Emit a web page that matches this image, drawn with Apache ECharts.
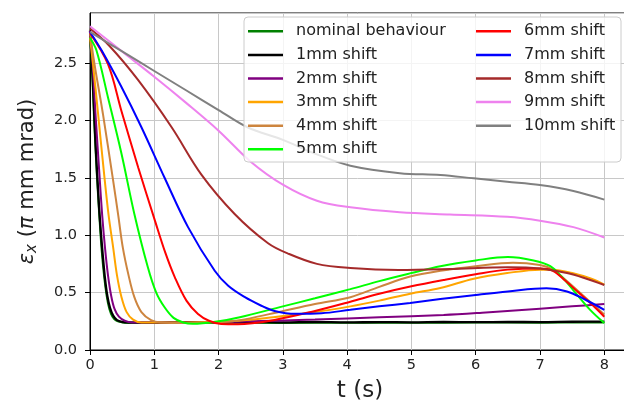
<!DOCTYPE html>
<html><head><meta charset="utf-8">
<script src="https://cdn.jsdelivr.net/npm/echarts@6/dist/echarts.min.js"></script>
<style>html,body{margin:0;padding:0;background:#fff}#c{width:624px;height:405px}</style>
</head><body><div id="c"></div>
<script>
const seriesNames = ['nominal behaviour','1mm shift','2mm shift','3mm shift','4mm shift','5mm shift','6mm shift','7mm shift','8mm shift','9mm shift','10mm shift'];
const xTicks = [0,1,2,3,4,5,6,7,8];
const yTicks = [0,0.5,1.0,1.5,2.0,2.5];

const nominal = [[0,2.76],[0.035,2.4],[0.065,2.0],[0.095,1.65],[0.12,1.4],[0.145,1.17],[0.18,0.88],[0.22,0.64],[0.26,0.47],[0.3,0.36],[0.35,0.29],[0.41,0.255],[0.5,0.24],[0.6,0.236],[1,0.235],[2,0.238],[3,0.236],[4,0.238],[5,0.237],[6,0.239],[7,0.238],[8,0.24]];
const shift1 = [[0,2.78],[0.04,2.4],[0.07,2.0],[0.1,1.65],[0.125,1.4],[0.15,1.17],[0.19,0.88],[0.23,0.64],[0.27,0.47],[0.31,0.37],[0.36,0.3],[0.42,0.26],[0.5,0.245],[0.6,0.24],[1,0.238],[1.5,0.243],[2,0.24],[2.5,0.245],[3,0.241],[3.5,0.244],[4,0.24],[4.5,0.243],[5,0.241],[5.5,0.244],[6,0.242],[6.5,0.245],[7,0.243],[7.5,0.246],[8,0.247]];
const shift2 = [[0,2.78],[0.04,2.5],[0.085,2.06],[0.15,1.5],[0.19,1.17],[0.235,0.88],[0.28,0.65],[0.33,0.47],[0.38,0.36],[0.45,0.29],[0.54,0.255],[0.65,0.24],[1.5,0.24],[2.5,0.25],[3.5,0.265],[4.5,0.285],[5.5,0.305],[6.1,0.325],[7,0.36],[7.5,0.38],[8,0.40]];
const shift3 = [[0,2.72],[0.047,2.49],[0.125,2.06],[0.23,1.475],[0.29,1.17],[0.36,0.894],[0.42,0.65],[0.49,0.46],[0.57,0.33],[0.67,0.265],[0.8,0.24],[1.5,0.24],[2.2,0.25],[2.85,0.285],[3.5,0.33],[4.05,0.38],[4.5,0.43],[4.98,0.49],[5.45,0.54],[5.97,0.62],[6.49,0.67],[7.0,0.70],[7.2,0.70],[7.5,0.67],[7.8,0.62],[8.0,0.57]];
const shift4 = [[0,2.76],[0.07,2.49],[0.2,2.06],[0.36,1.475],[0.44,1.17],[0.51,0.894],[0.6,0.65],[0.69,0.46],[0.8,0.33],[0.95,0.26],[1.1,0.24],[1.5,0.235],[2.0,0.245],[2.33,0.26],[2.85,0.32],[3.5,0.4],[4.05,0.46],[4.5,0.55],[4.98,0.64],[5.45,0.69],[6.0,0.73],[6.58,0.76],[7.0,0.74],[7.2,0.70],[7.4,0.61],[7.6,0.51],[7.8,0.41],[8.0,0.31]];
const shift5 = [[0,2.72],[0.1,2.61],[0.28,2.2],[0.49,1.71],[0.69,1.185],[0.9,0.72],[1.03,0.5],[1.16,0.372],[1.3,0.28],[1.45,0.24],[1.6,0.228],[2.0,0.25],[2.33,0.285],[3.0,0.38],[3.5,0.45],[4.05,0.53],[4.5,0.6],[5.0,0.67],[5.45,0.73],[6.0,0.78],[6.5,0.81],[6.9,0.78],[7.16,0.73],[7.35,0.63],[7.52,0.52],[7.78,0.35],[8.0,0.235]];
const shift6 = [[0,2.76],[0.28,2.49],[0.49,2.08],[0.75,1.59],[1.01,1.127],[1.17,0.85],[1.32,0.633],[1.5,0.43],[1.68,0.314],[1.85,0.255],[2.04,0.227],[2.3,0.225],[2.85,0.26],[3.5,0.34],[4.05,0.42],[4.5,0.49],[5.0,0.555],[5.5,0.61],[6.0,0.66],[6.5,0.70],[7.0,0.71],[7.2,0.69],[7.4,0.6],[7.6,0.5],[7.8,0.4],[8.0,0.29]];
const shift7 = [[0,2.77],[0.18,2.61],[0.49,2.29],[0.8,1.94],[1.16,1.5],[1.525,1.07],[1.94,0.69],[2.15,0.56],[2.41,0.46],[2.65,0.39],[2.87,0.34],[3.2,0.315],[3.6,0.32],[4.05,0.35],[4.5,0.38],[4.98,0.41],[5.45,0.444],[6.0,0.48],[6.5,0.51],[7.1,0.537],[7.42,0.51],[7.7,0.44],[8.0,0.35]];
const shift8 = [[0,2.80],[0.3,2.65],[0.75,2.35],[1.27,1.94],[1.73,1.53],[2.25,1.185],[2.77,0.93],[3.08,0.84],[3.53,0.75],[4.05,0.714],[4.8,0.697],[5.6,0.705],[6.5,0.72],[7.0,0.71],[7.42,0.67],[7.7,0.625],[8.0,0.566]];
const shift9 = [[0,2.82],[0.5,2.6],[1.0,2.38],[1.5,2.15],[2.0,1.91],[2.5,1.64],[3.0,1.44],[3.53,1.30],[4.05,1.243],[4.82,1.2],[5.6,1.18],[6.49,1.16],[7.0,1.126],[7.52,1.07],[8.0,0.98]];
const shift10 = [[0,2.77],[0.5,2.6],[1.0,2.43],[1.5,2.26],[2.0,2.09],[2.45,1.94],[3.0,1.83],[3.5,1.71],[4.05,1.605],[4.82,1.54],[5.45,1.524],[5.97,1.495],[6.49,1.466],[7.0,1.437],[7.52,1.385],[8.0,1.31]];

const allData = [nominal,shift1,shift2,shift3,shift4,shift5,shift6,shift7,shift8,shift9,shift10];
const colors = ['#008000','#000000','#800080','#FFA500','#CD853F','#00FF00','#FF0000','#0000FF','#A52A2A','#EE82EE','#808080'];

const FONT = 'DejaVu Sans';
const chart = echarts.init(document.getElementById('c'), null, {renderer:'canvas'});
const series = allData.map((d,i)=>({
  name: seriesNames[i], type:'line', data:d, showSymbol:false, symbol:'none',
  smooth:0.35, color: colors[i],
  lineStyle:{width: i===1?2.3:2, color: colors[i]}, z: 2+i*0.01, animation:false
}));
const legendCommon = {
  orient:'vertical', icon:'rect', itemWidth:35, itemHeight:2.5, itemGap:0, padding:0,
  selectedMode:false, z:10,
  textStyle:{fontFamily:FONT, fontSize:16, color:'#222', lineHeight:23.6, padding:[0,0,0,8]}
};
chart.setOption({
  animation:false,
  backgroundColor:'#fff',
  grid:{left:90, top:13, right:-6, bottom:55, show:true, borderColor:'#000', borderWidth:1,
    containLabel:false, outerBoundsMode:'none'},
  xAxis:{type:'value', min:0, max:8.4, interval:1,
    name:'t (s)', nameLocation:'middle', nameGap:30,
    nameTextStyle:{fontFamily:FONT, fontSize:23, color:'#222'},
    axisLine:{show:true, onZero:false, lineStyle:{color:'#000', width:1}},
    axisTick:{show:true, length:5, lineStyle:{color:'#000'}},
    axisLabel:{fontFamily:FONT, fontSize:14.5, color:'#222', margin:8, showMaxLabel:false,
      formatter:v=> xTicks.includes(v)? String(v):''},
    splitLine:{show:true, lineStyle:{color:'#c8c8c8', width:1}}},
  yAxis:{type:'value', min:0, max:2.935, interval:0.5,
    name:'{e|ε}{s|x}{n| (}{e|π}{n| mm mrad)}', nameLocation:'middle', nameGap:50, nameRotate:90,
    nameTextStyle:{fontFamily:FONT, fontSize:21, color:'#222',
      rich:{e:{fontFamily:FONT, fontSize:21, fontStyle:'italic', color:'#222'},
            s:{fontFamily:FONT, fontSize:15, fontStyle:'italic', color:'#222', padding:[10,0,0,0]},
            n:{fontFamily:FONT, fontSize:21, color:'#222'}}},
    axisLine:{show:true, onZero:false, lineStyle:{color:'#000', width:1}},
    axisTick:{show:true, length:5, lineStyle:{color:'#000'}},
    axisLabel:{fontFamily:FONT, fontSize:14.5, color:'#222', margin:13, showMaxLabel:false,
      formatter:v=> yTicks.some(t=>Math.abs(t-v)<1e-9)? v.toFixed(1):''},
    splitLine:{show:true, lineStyle:{color:'#c8c8c8', width:1}}},
  graphic:[{type:'rect', z:8, shape:{x:244, y:17, width:377, height:145, r:4},
    style:{fill:'rgba(255,255,255,0.8)', stroke:'#cccccc', lineWidth:1}}],
  legend:[
    Object.assign({left:248, top:19.5, data:seriesNames.slice(0,6)}, legendCommon),
    Object.assign({left:476, top:19.5, data:seriesNames.slice(6)}, legendCommon)
  ],
  series: series
});
</script></body></html>
